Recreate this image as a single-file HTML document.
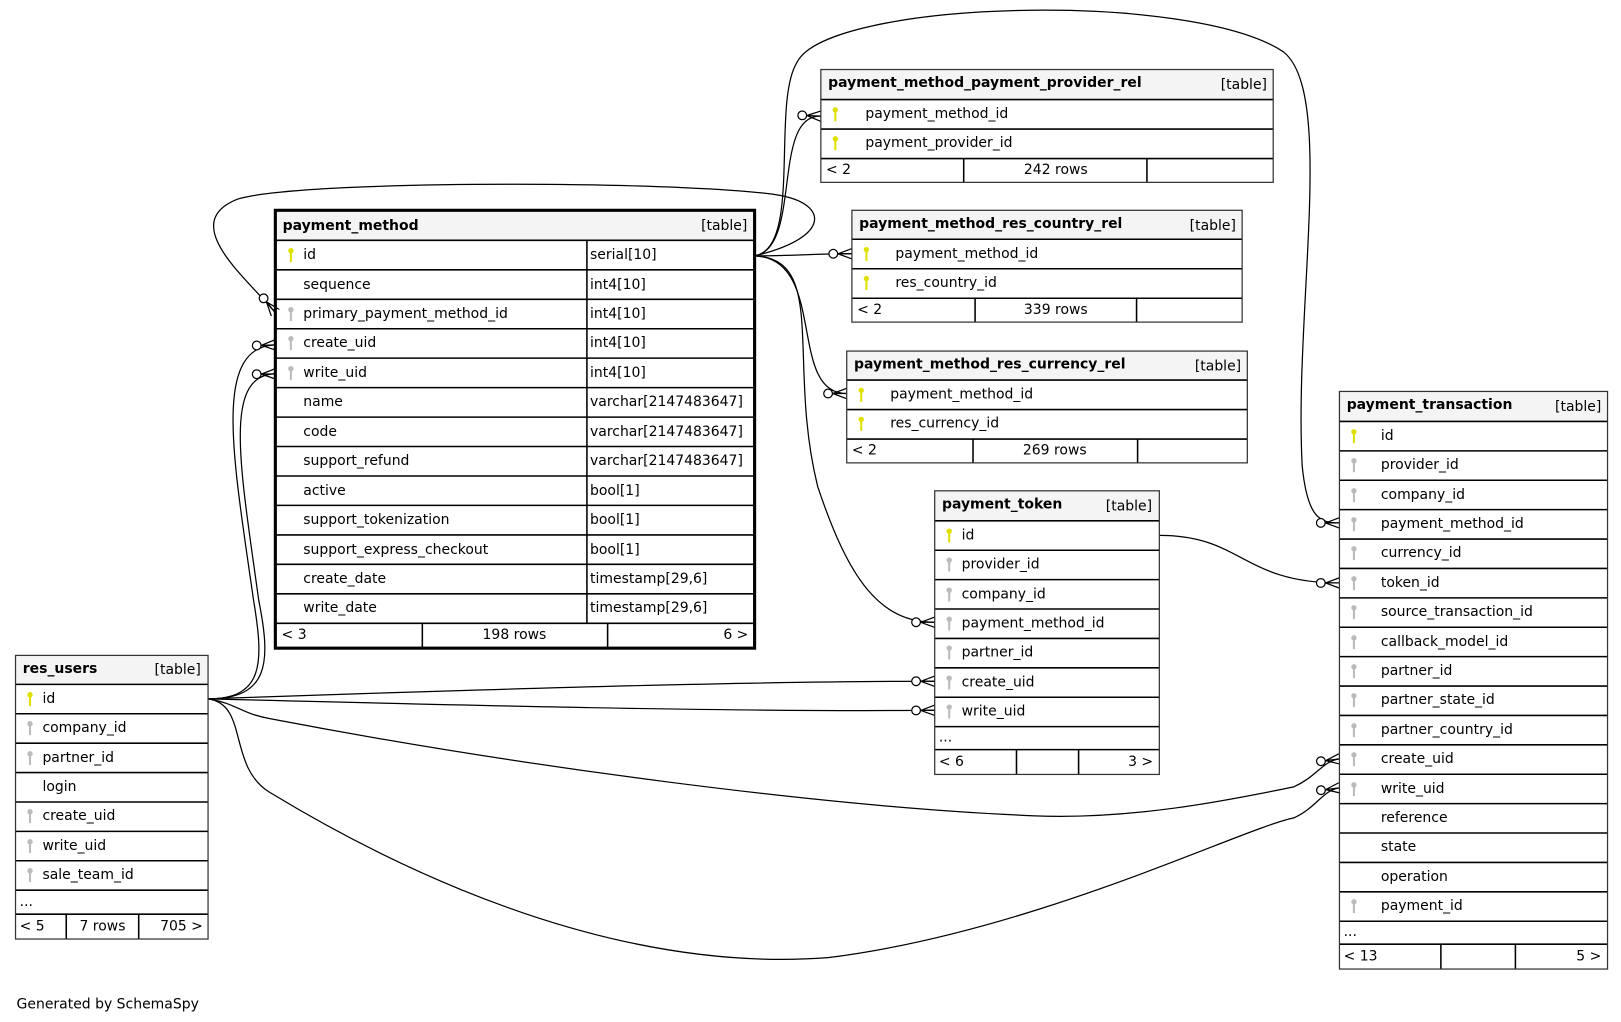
<!DOCTYPE html>
<html><head><meta charset="utf-8"><style>
html,body{margin:0;padding:0;background:#fff;}
svg{display:block;}
text{font-family:"DejaVu Sans","Liberation Sans",sans-serif;font-size:13.5px;fill:#000;}
.b{font-weight:bold;}
.hdr{fill:#f4f4f4;}
.ln{stroke:#000;stroke-width:1.5;}
.e{fill:none;stroke:#000;stroke-width:1.2;marker-end:url(#cf);}
</style></head><body>
<svg width="1621" height="1022" viewBox="0 0 1566 987" xmlns="http://www.w3.org/2000/svg">
<defs>
<marker id="cf" markerUnits="userSpaceOnUse" markerWidth="24" markerHeight="14" viewBox="0 0 24 14" refX="23" refY="7" orient="auto">
<circle cx="5" cy="7" r="4.2" fill="#fff" stroke="#000" stroke-width="1.2"/>
<path d="M9.5,7 L23,2 M9.5,7 L23,12 M9.5,7 L23,7" stroke="#000" stroke-width="1.2" fill="none"/>
</marker>
<g id="pk"><circle cx="0" cy="-4" r="2.6" fill="#e0e000"/><rect x="-1" y="-3" width="2" height="10" fill="#e0e000"/></g>
<g id="fk"><circle cx="0" cy="-4" r="2.6" fill="#bbb"/><rect x="-1" y="-3" width="2" height="10" fill="#bbb"/></g>
</defs>

<!-- edges -->
<path class="e" d="M729,247 C775,240 745,110 793,112"/>
<path class="e" d="M729,247 C770,247 780,245 823,245"/>
<path class="e" d="M729,247 C800,250 760,380 818,380"/>
<path class="e" d="M729,247 C800,250 760,350 790,470 C820,560 850,601 903,601"/>
<path class="e" d="M729,247 C775,240 745,100 770,60 C800,0 1150,-10 1240,50 C1290,90 1250,300 1258,450 C1263,500 1275,505 1294,505"/>
<path class="e" d="M729,247 C800,230 800,200 760,190 C700,175 300,172 230,192 C170,215 240,270 266,302"/>
<path class="e" d="M201,675 C255,675 255,640 245,580 C225,440 205,335 266,333"/>
<path class="e" d="M201,675 C260,675 262,640 250,580 C232,450 215,362 266,361"/>
<path class="e" d="M201,675 C400,668 700,658 903,658"/>
<path class="e" d="M201,675 C400,680 700,688 903,686"/>
<path class="e" d="M201,675 C230,680 230,688 260,694 C500,740 800,780 1000,788 C1100,792 1200,770 1250,760 C1272,750 1278,735 1294,733"/>
<path class="e" d="M201,675 C240,680 220,740 260,765 C400,850 600,940 800,925 C1000,900 1200,800 1250,790 C1272,780 1278,763 1294,761"/>
<path class="e" d="M1120,517 C1200,517 1200,563 1294,563"/>

<!-- payment_method -->
<g>
<rect x="266" y="203" width="463" height="29" class="hdr"/>
<text x="273" y="222" class="b">payment_method</text><text x="722" y="222" text-anchor="end">[table]</text>
<g class="ln">
<line x1="266" y1="232" x2="729" y2="232"/><line x1="266" y1="260.5" x2="729" y2="260.5"/><line x1="266" y1="289" x2="729" y2="289"/><line x1="266" y1="317.4" x2="729" y2="317.4"/><line x1="266" y1="345.8" x2="729" y2="345.8"/><line x1="266" y1="374.3" x2="729" y2="374.3"/><line x1="266" y1="402.8" x2="729" y2="402.8"/><line x1="266" y1="431.2" x2="729" y2="431.2"/><line x1="266" y1="459.7" x2="729" y2="459.7"/><line x1="266" y1="488.1" x2="729" y2="488.1"/><line x1="266" y1="516.6" x2="729" y2="516.6"/><line x1="266" y1="545" x2="729" y2="545"/><line x1="266" y1="573.5" x2="729" y2="573.5"/><line x1="266" y1="602" x2="729" y2="602"/>
<line x1="567" y1="232" x2="567" y2="602"/><line x1="408" y1="602" x2="408" y2="626"/><line x1="587" y1="602" x2="587" y2="626"/>
</g>
<rect x="266" y="203" width="463" height="423" fill="none" stroke="#000" stroke-width="3"/>
<use href="#pk" x="281" y="246"/><use href="#fk" x="281" y="303"/><use href="#fk" x="281" y="331"/><use href="#fk" x="281" y="360"/>
<text x="293" y="250">id</text><text x="570" y="250">serial[10]</text>
<text x="293" y="279">sequence</text><text x="570" y="279">int4[10]</text>
<text x="293" y="307">primary_payment_method_id</text><text x="570" y="307">int4[10]</text>
<text x="293" y="335">create_uid</text><text x="570" y="335">int4[10]</text>
<text x="293" y="364">write_uid</text><text x="570" y="364">int4[10]</text>
<text x="293" y="392">name</text><text x="570" y="392">varchar[2147483647]</text>
<text x="293" y="421">code</text><text x="570" y="421">varchar[2147483647]</text>
<text x="293" y="449">support_refund</text><text x="570" y="449">varchar[2147483647]</text>
<text x="293" y="478">active</text><text x="570" y="478">bool[1]</text>
<text x="293" y="506">support_tokenization</text><text x="570" y="506">bool[1]</text>
<text x="293" y="535">support_express_checkout</text><text x="570" y="535">bool[1]</text>
<text x="293" y="563">create_date</text><text x="570" y="563">timestamp[29,6]</text>
<text x="293" y="591">write_date</text><text x="570" y="591">timestamp[29,6]</text>
<text x="272" y="617">&lt; 3</text><text x="497" y="617" text-anchor="middle">198 rows</text><text x="723" y="617" text-anchor="end">6 &gt;</text>
</g>

<!-- res_users -->
<g>
<rect x="15" y="633" width="186" height="28" class="hdr"/>
<text x="22" y="650" class="b">res_users</text><text x="194" y="651" text-anchor="end">[table]</text>
<g class="ln">
<line x1="15" y1="661" x2="201" y2="661"/><line x1="15" y1="689.4" x2="201" y2="689.4"/><line x1="15" y1="717.8" x2="201" y2="717.8"/><line x1="15" y1="746.2" x2="201" y2="746.2"/><line x1="15" y1="774.6" x2="201" y2="774.6"/><line x1="15" y1="803" x2="201" y2="803"/><line x1="15" y1="831.4" x2="201" y2="831.4"/><line x1="15" y1="859.8" x2="201" y2="859.8"/><line x1="15" y1="883" x2="201" y2="883"/>
<line x1="64" y1="883" x2="64" y2="907"/><line x1="134" y1="883" x2="134" y2="907"/>
</g>
<rect x="15" y="633" width="186" height="274" fill="none" stroke="#333" stroke-width="1.2"/>
<use href="#pk" x="29" y="675"/><use href="#fk" x="29" y="703"/><use href="#fk" x="29" y="732"/><use href="#fk" x="29" y="788"/><use href="#fk" x="29" y="817"/><use href="#fk" x="29" y="845"/>
<text x="41" y="679">id</text><text x="41" y="707">company_id</text><text x="41" y="736">partner_id</text><text x="41" y="764">login</text><text x="41" y="792">create_uid</text><text x="41" y="821">write_uid</text><text x="41" y="849">sale_team_id</text>
<text x="19" y="875">...</text>
<text x="19" y="899">&lt; 5</text><text x="99" y="899" text-anchor="middle">7 rows</text><text x="196" y="899" text-anchor="end">705 &gt;</text>
</g>

<!-- payment_method_payment_provider_rel -->
<g>
<rect x="793" y="67" width="437" height="29" class="hdr"/>
<text x="800" y="84" class="b">payment_method_payment_provider_rel</text><text x="1224" y="86" text-anchor="end">[table]</text>
<g class="ln"><line x1="793" y1="96" x2="1230" y2="96"/><line x1="793" y1="124.5" x2="1230" y2="124.5"/><line x1="793" y1="153" x2="1230" y2="153"/><line x1="931" y1="153" x2="931" y2="176"/><line x1="1108" y1="153" x2="1108" y2="176"/></g>
<rect x="793" y="67" width="437" height="109" fill="none" stroke="#333" stroke-width="1.2"/>
<use href="#pk" x="807" y="110"/><use href="#pk" x="807" y="138"/>
<text x="836" y="114">payment_method_id</text><text x="836" y="142">payment_provider_id</text>
<text x="798" y="168">&lt; 2</text><text x="1020" y="168" text-anchor="middle">242 rows</text>
</g>

<!-- payment_method_res_country_rel -->
<g>
<rect x="823" y="203" width="377" height="28" class="hdr"/>
<text x="830" y="220" class="b">payment_method_res_country_rel</text><text x="1194" y="222" text-anchor="end">[table]</text>
<g class="ln"><line x1="823" y1="231" x2="1200" y2="231"/><line x1="823" y1="259.5" x2="1200" y2="259.5"/><line x1="823" y1="288" x2="1200" y2="288"/><line x1="942" y1="288" x2="942" y2="311"/><line x1="1098" y1="288" x2="1098" y2="311"/></g>
<rect x="823" y="203" width="377" height="108" fill="none" stroke="#333" stroke-width="1.2"/>
<use href="#pk" x="837" y="245"/><use href="#pk" x="837" y="273"/>
<text x="865" y="249">payment_method_id</text><text x="865" y="277">res_country_id</text>
<text x="828" y="303">&lt; 2</text><text x="1020" y="303" text-anchor="middle">339 rows</text>
</g>

<!-- payment_method_res_currency_rel -->
<g>
<rect x="818" y="339" width="387" height="28" class="hdr"/>
<text x="825" y="356" class="b">payment_method_res_currency_rel</text><text x="1199" y="358" text-anchor="end">[table]</text>
<g class="ln"><line x1="818" y1="367" x2="1205" y2="367"/><line x1="818" y1="395.5" x2="1205" y2="395.5"/><line x1="818" y1="424" x2="1205" y2="424"/><line x1="940" y1="424" x2="940" y2="447"/><line x1="1099" y1="424" x2="1099" y2="447"/></g>
<rect x="818" y="339" width="387" height="108" fill="none" stroke="#333" stroke-width="1.2"/>
<use href="#pk" x="832" y="381"/><use href="#pk" x="832" y="409"/>
<text x="860" y="385">payment_method_id</text><text x="860" y="413">res_currency_id</text>
<text x="823" y="439">&lt; 2</text><text x="1019" y="439" text-anchor="middle">269 rows</text>
</g>

<!-- payment_token -->
<g>
<rect x="903" y="474" width="217" height="29" class="hdr"/>
<text x="910" y="491" class="b">payment_token</text><text x="1113" y="493" text-anchor="end">[table]</text>
<g class="ln">
<line x1="903" y1="503" x2="1120" y2="503"/><line x1="903" y1="531.4" x2="1120" y2="531.4"/><line x1="903" y1="559.8" x2="1120" y2="559.8"/><line x1="903" y1="588.2" x2="1120" y2="588.2"/><line x1="903" y1="616.6" x2="1120" y2="616.6"/><line x1="903" y1="645" x2="1120" y2="645"/><line x1="903" y1="673.4" x2="1120" y2="673.4"/><line x1="903" y1="701.8" x2="1120" y2="701.8"/><line x1="903" y1="724" x2="1120" y2="724"/>
<line x1="982" y1="724" x2="982" y2="748"/><line x1="1042" y1="724" x2="1042" y2="748"/>
</g>
<rect x="903" y="474" width="217" height="274" fill="none" stroke="#333" stroke-width="1.2"/>
<use href="#pk" x="917" y="517"/><use href="#fk" x="917" y="545"/><use href="#fk" x="917" y="574"/><use href="#fk" x="917" y="602"/><use href="#fk" x="917" y="630"/><use href="#fk" x="917" y="659"/><use href="#fk" x="917" y="687"/>
<text x="929" y="521">id</text><text x="929" y="549">provider_id</text><text x="929" y="578">company_id</text><text x="929" y="606">payment_method_id</text><text x="929" y="634">partner_id</text><text x="929" y="663">create_uid</text><text x="929" y="691">write_uid</text>
<text x="907" y="716">...</text>
<text x="907" y="740">&lt; 6</text><text x="1114" y="740" text-anchor="end">3 &gt;</text>
</g>

<!-- payment_transaction -->
<g>
<rect x="1294" y="378" width="259" height="29" class="hdr"/>
<text x="1301" y="395" class="b">payment_transaction</text><text x="1547" y="397" text-anchor="end">[table]</text>
<g class="ln">
<line x1="1294" y1="407" x2="1553" y2="407"/><line x1="1294" y1="435.4" x2="1553" y2="435.4"/><line x1="1294" y1="463.8" x2="1553" y2="463.8"/><line x1="1294" y1="492.2" x2="1553" y2="492.2"/><line x1="1294" y1="520.6" x2="1553" y2="520.6"/><line x1="1294" y1="549" x2="1553" y2="549"/><line x1="1294" y1="577.4" x2="1553" y2="577.4"/><line x1="1294" y1="605.8" x2="1553" y2="605.8"/><line x1="1294" y1="634.2" x2="1553" y2="634.2"/><line x1="1294" y1="662.6" x2="1553" y2="662.6"/><line x1="1294" y1="691" x2="1553" y2="691"/><line x1="1294" y1="719.4" x2="1553" y2="719.4"/><line x1="1294" y1="747.8" x2="1553" y2="747.8"/><line x1="1294" y1="776.2" x2="1553" y2="776.2"/><line x1="1294" y1="804.6" x2="1553" y2="804.6"/><line x1="1294" y1="833" x2="1553" y2="833"/><line x1="1294" y1="861.4" x2="1553" y2="861.4"/><line x1="1294" y1="889.8" x2="1553" y2="889.8"/><line x1="1294" y1="912" x2="1553" y2="912"/>
<line x1="1392" y1="912" x2="1392" y2="936"/><line x1="1464" y1="912" x2="1464" y2="936"/>
</g>
<rect x="1294" y="378" width="259" height="558" fill="none" stroke="#333" stroke-width="1.2"/>
<use href="#pk" x="1308" y="421"/><use href="#fk" x="1308" y="449"/><use href="#fk" x="1308" y="478"/><use href="#fk" x="1308" y="506"/><use href="#fk" x="1308" y="534"/><use href="#fk" x="1308" y="563"/><use href="#fk" x="1308" y="591"/><use href="#fk" x="1308" y="620"/><use href="#fk" x="1308" y="648"/><use href="#fk" x="1308" y="676"/><use href="#fk" x="1308" y="705"/><use href="#fk" x="1308" y="733"/><use href="#fk" x="1308" y="762"/><use href="#fk" x="1308" y="875"/>
<text x="1334" y="425">id</text><text x="1334" y="453">provider_id</text><text x="1334" y="482">company_id</text><text x="1334" y="510">payment_method_id</text><text x="1334" y="538">currency_id</text><text x="1334" y="567">token_id</text><text x="1334" y="595">source_transaction_id</text><text x="1334" y="624">callback_model_id</text><text x="1334" y="652">partner_id</text><text x="1334" y="680">partner_state_id</text><text x="1334" y="709">partner_country_id</text><text x="1334" y="737">create_uid</text><text x="1334" y="766">write_uid</text><text x="1334" y="794">reference</text><text x="1334" y="822">state</text><text x="1334" y="851">operation</text><text x="1334" y="879">payment_id</text>
<text x="1298" y="904">...</text>
<text x="1298" y="928">&lt; 13</text><text x="1547" y="928" text-anchor="end">5 &gt;</text>
</g>

<text x="16" y="974">Generated by SchemaSpy</text>
</svg>
</body></html>
